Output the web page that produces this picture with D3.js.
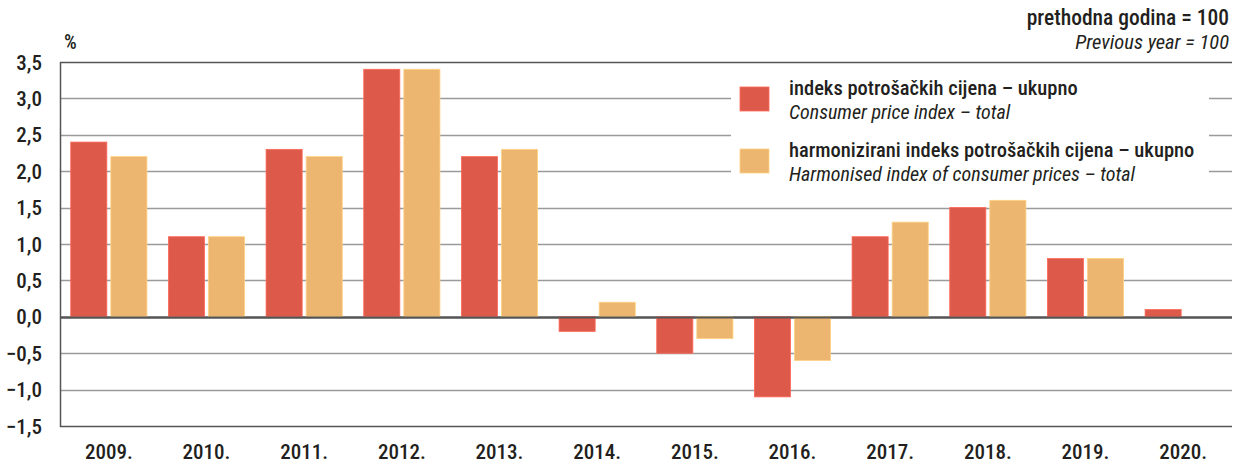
<!DOCTYPE html>
<html>
<head>
<meta charset="utf-8">
<script src="https://cdn.jsdelivr.net/npm/d3@7"></script>
<style>
  body { margin: 0; background: #fff; }
  text { font-family: "Liberation Sans Narrow", "Roboto Condensed", "Roboto", sans-serif; fill: #231f20; }
</style>
</head>
<body>
<svg id="chart" width="1238" height="467"></svg>
<script>
var years = ['2009.', '2010.', '2011.', '2012.', '2013.', '2014.', '2015.', '2016.', '2017.', '2018.', '2019.', '2020.'];
var cpi  = [2.4, 1.1, 2.3, 3.4, 2.2, -0.2, -0.5, -1.1, 1.1, 1.5, 0.8, 0.1];
var hicp = [2.2, 1.1, 2.2, 3.4, 2.3, 0.2, -0.3, -0.6, 1.3, 1.6, 0.8, null];
var yTicks = [-1.5, -1.0, -0.5, 0, 0.5, 1.0, 1.5, 2.0, 2.5, 3.0, 3.5];
var seriesNames = [
  ['indeks potrošačkih cijena – ukupno', 'Consumer price index – total'],
  ['harmonizirani indeks potrošačkih cijena – ukupno', 'Harmonised index of consumer prices – total']
];
var colors = ['#dd5a4b', '#ecb570'];

var svg = d3.select('#chart');
var pLeft = 60, pRight = 1232, pTop = 62, pBottom = 426;

var x = d3.scaleBand()
  .domain(years)
  .range([pLeft, pRight])
  .paddingInner(0.22)
  .paddingOuter(0.11);

var xs = d3.scaleBand()
  .domain([0, 1])
  .range([0, x.bandwidth()])
  .paddingInner(0.1);

var y = d3.scaleLinear()
  .domain([-1.5, 3.5])
  .range([pBottom, pTop]);

var fmt = function(d) { return d3.format('.1f')(d).replace('.', ','); };

// gridlines
svg.append('g')
  .selectAll('line')
  .data(yTicks)
  .join('line')
    .attr('x1', pLeft)
    .attr('x2', pRight)
    .attr('y1', function(d) { return Math.round(y(d)) + 0.5; })
    .attr('y2', function(d) { return Math.round(y(d)) + 0.5; })
    .attr('stroke', function(d) { return (d === 0 || d === -1.5 || d === 3.5) ? '#555' : '#9a9a9a'; })
    .attr('stroke-width', function(d) { return d === 0 ? 2 : 1.3; })
;

// y labels
svg.append('g')
  .selectAll('text')
  .data(yTicks)
  .join('text')
    .attr('x', 42)
    .attr('y', function(d) { return y(d) + 7.5; })
    .attr('text-anchor', 'end')
    .style('font-size', '21px')
    .style('font-weight', 500)
    .text(fmt)
;

svg.append('text')
  .attr('x', 64)
  .attr('y', 49)
  .style('font-size', '20px')
  .style('font-weight', 500)
  .text('%');

// bars
var data = [cpi, hicp];
data.forEach(function(vals, si) {
  svg.append('g')
    .selectAll('rect')
    .data(vals.map(function(v, i) { return {year: years[i], v: v}; }).filter(function(d) { return d.v !== null; }))
    .join('rect')
      .attr('x', function(d) { return x(d.year) + xs(si); })
      .attr('width', xs.bandwidth())
      .attr('y', function(d) { return y(Math.max(0, d.v)); })
      .attr('height', function(d) { return Math.abs(y(d.v) - y(0)); })
      .attr('fill', colors[si])
      .attr('stroke', d3.color(colors[si]).brighter(0.4))
      .attr('stroke-width', 0.8)
  ;
});

// zero line on top of bars
svg.append('line')
  .attr('x1', pLeft).attr('x2', pRight)
  .attr('y1', Math.round(y(0)) + 0.5).attr('y2', Math.round(y(0)) + 0.5)
  .attr('stroke', '#555').attr('stroke-width', 2);

// axis left
svg.append('line')
  .attr('x1', pLeft + 0.5).attr('x2', pLeft + 0.5)
  .attr('y1', pTop).attr('y2', pBottom + 1)
  .attr('stroke', '#555').attr('stroke-width', 1.5);

// x labels
svg.append('g')
  .selectAll('text')
  .data(years)
  .join('text')
    .attr('x', function(d) { return x(d) + x.bandwidth() / 2; })
    .attr('y', 459)
    .attr('text-anchor', 'middle')
    .style('font-size', '21px')
    .style('font-weight', 500)
    .text(function(d) { return d; })
;

// legend
var lg = svg.append('g');
lg.append('rect')
  .attr('x', 731).attr('y', 75)
  .attr('width', 478).attr('height', 110)
  .attr('fill', '#fff');
seriesNames.forEach(function(nm, i) {
  var yy = 87 + i * 62;
  lg.append('rect')
    .attr('x', 740).attr('y', yy)
    .attr('width', 29).attr('height', 24)
    .attr('fill', colors[i])
    .attr('stroke', d3.color(colors[i]).brighter(0.4))
    .attr('stroke-width', 0.8);
  lg.append('text')
    .attr('x', 789).attr('y', yy + 8)
    .style('font-size', '20.5px')
    .style('font-weight', 500)
    .text(nm[0]);
  lg.append('text')
    .attr('x', 789).attr('y', yy + 32)
    .style('font-size', '20px')
    .style('font-style', 'italic')
    .text(nm[1]);
});

// top-right note
svg.append('text')
  .attr('x', 1229).attr('y', 25)
  .attr('text-anchor', 'end')
  .style('font-size', '21.5px')
  .style('font-weight', 500)
  .text('prethodna godina = 100');
svg.append('text')
  .attr('x', 1229).attr('y', 49)
  .attr('text-anchor', 'end')
  .style('font-size', '20.5px')
  .style('font-style', 'italic')
  .text('Previous year = 100');
</script>
</body>
</html>
